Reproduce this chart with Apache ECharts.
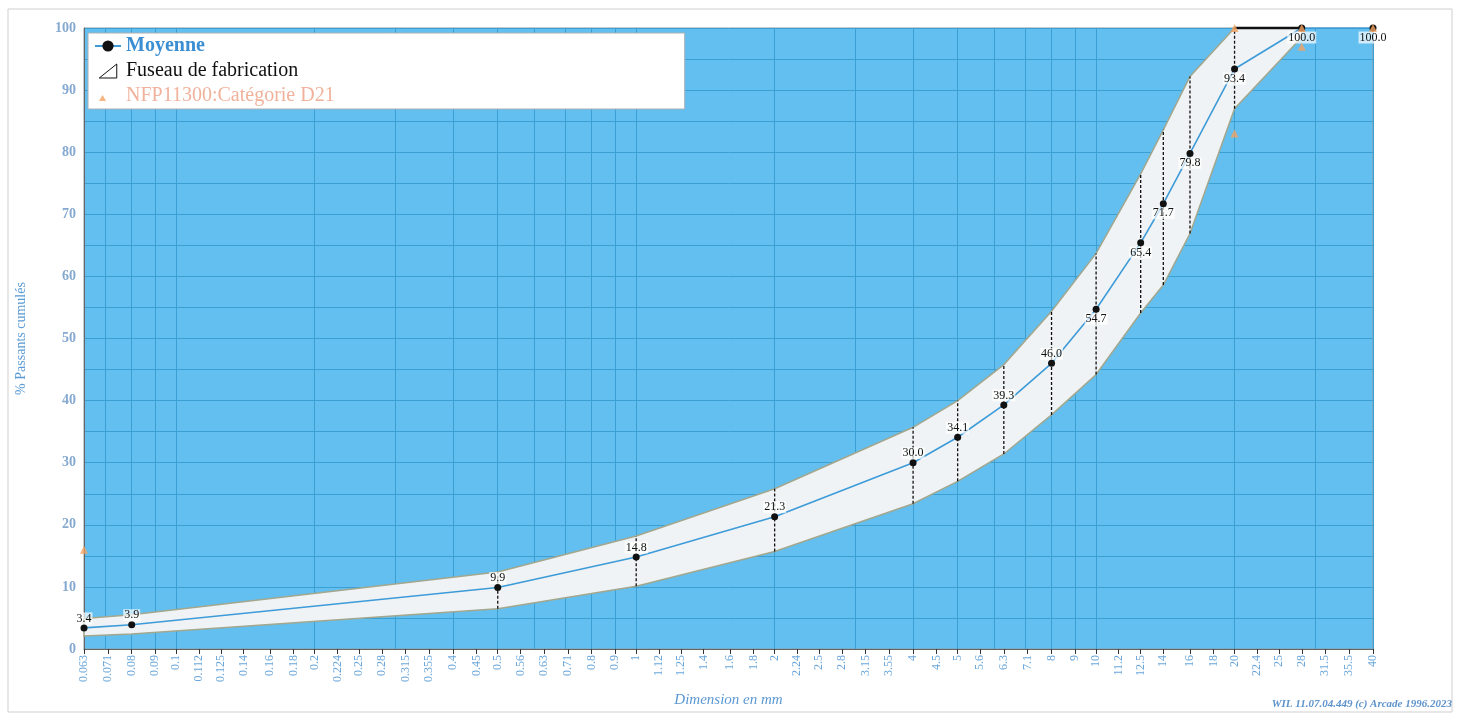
<!DOCTYPE html>
<html><head><meta charset="utf-8">
<script src="https://cdn.jsdelivr.net/npm/echarts@6/dist/echarts.min.js"></script>
<style>html,body{margin:0;padding:0;background:#fff}#c{width:1460px;height:713px}</style>
</head><body><div id="c"></div>
<script>
// ---- data ----
const xTickLabels = ['0.063','0.071','0.08','0.09','0.1','0.112','0.125','0.14','0.16','0.18','0.2','0.224','0.25','0.28','0.315','0.355','0.4','0.45','0.5','0.56','0.63','0.71','0.8','0.9','1','1.12','1.25','1.4','1.6','1.8','2','2.24','2.5','2.8','3.15','3.55','4','4.5','5','5.6','6.3','7.1','8','9','10','11.2','12.5','14','16','18','20','22.4','25','28','31.5','35.5','40'];
const gridLineValues = [0.07,0.08,0.09,0.1,0.2,0.3,0.4,0.5,0.6,0.7,0.8,0.9,1,2,3,4,5,6,7,8,9,10,20,30,40];
const sieves = [0.063, 0.08, 0.5, 1, 2, 4, 5, 6.3, 8, 10, 12.5, 14, 16, 20, 28, 40];
const moyenne = [3.4, 3.9, 9.9, 14.8, 21.3, 30.0, 34.1, 39.3, 46.0, 54.7, 65.4, 71.7, 79.8, 93.4, 100.0, 100.0];
const bandSieves = [0.063, 0.08, 0.5, 1, 2, 4, 5, 6.3, 8, 10, 12.5, 14, 16, 20, 28];
const fuseauMin = [2.1, 2.4, 6.5, 10.1, 15.7, 23.4, 27.0, 31.4, 37.7, 44.2, 54.1, 58.6, 66.9, 87.0, 98.5];
const fuseauMax = [4.9, 5.5, 12.4, 18.2, 25.8, 35.7, 40.0, 45.8, 54.4, 63.7, 76.5, 83.6, 92.2, 100, 100];
const normeX = [0.063, 20, 20, 28, 28, 40];
const normeY = [16, 83, 100, 97, 100, 100];

const SERIF = '"Liberation Serif","DejaVu Serif",serif';
const xTickValues = xTickLabels.map(Number);

function labelFor(v){
  let best = xTickLabels[0], bd = Infinity;
  xTickLabels.forEach(s => { const d = Math.abs(Math.log(+s) - Math.log(v)); if (d < bd){bd = d; best = s;} });
  return best;
}

const chart = echarts.init(document.getElementById('c'));
const bandData = bandSieves.map((x,i)=>[x, fuseauMin[i], fuseauMax[i]]);
const barData = bandSieves.slice(2,14).map((x,i)=>[x, fuseauMin[i+2], fuseauMax[i+2]]);
const GRIDC = '#3AA0D4';

chart.setOption({
  animation:false,
  backgroundColor:'#fff',
  graphic:[
    {type:'rect', shape:{x:8,y:9,width:1444,height:703}, style:{fill:'none', stroke:'#cfcfcf', lineWidth:1}, silent:true, z:-10},
    {type:'text', right:8, bottom:3, style:{text:'WIL 11.07.04.449 (c) Arcade 1996.2023', fill:'#5E93CC', font:'italic bold 11px '+SERIF}}
  ],
  grid:{left:84, right:87, top:28, bottom:60, show:true, backgroundColor:'#62BFF0', borderColor:'#8d9aa3', borderWidth:1},
  legend:{
    orient:'vertical', left:88, top:33, padding:[3,350,3,6], itemGap:5, itemWidth:26, itemHeight:14,
    backgroundColor:'#fff', borderColor:'#aab0b5', borderWidth:1,
    textStyle:{fontFamily:SERIF, fontSize:20},
    data:[
      {name:'Moyenne', textStyle:{color:'#3B8ED2', fontWeight:'bold'}},
      {name:'Fuseau de fabrication', icon:'path://M0,16 L20,0 L20,16 Z', itemStyle:{color:'#fff', borderColor:'#111', borderWidth:1}, textStyle:{color:'#111'}},
      {name:'NFP11300:Catégorie D21', icon:'path://M0,0h0.05v0.05h-0.05Z M26,14h-0.05v-0.05h0.05Z M4,12 L7.5,6 L11,12 Z', textStyle:{color:'#F1B29C'}}
    ]
  },
  xAxis:[{
    type:'log', min:0.063, max:40, position:'bottom',
    name:'Dimension en mm', nameLocation:'middle', nameGap:44,
    nameTextStyle:{fontFamily:SERIF, fontSize:15, fontStyle:'italic', color:'#5B97D2'},
    axisLine:{show:true, lineStyle:{color:'#666'}},
    axisTick:{show:true, customValues:xTickValues, length:5, lineStyle:{color:'#333'}},
    axisLabel:{customValues:xTickValues, rotate:90, fontFamily:SERIF, fontSize:12, color:'#6AA6DA', margin:6,
      formatter:(v)=>labelFor(v)},
    splitLine:{show:false}, minorTick:{show:false}, minorSplitLine:{show:false}
  },{
    type:'log', min:0.063, max:40, position:'bottom',
    axisLine:{show:false}, axisLabel:{show:false},
    axisTick:{show:false, customValues:gridLineValues},
    splitLine:{show:true, lineStyle:{color:GRIDC, width:1}}
  }],
  yAxis:{
    type:'value', min:0, max:100, interval:10,
    name:'% Passants cumulés', nameLocation:'middle', nameGap:56,
    nameTextStyle:{fontFamily:SERIF, fontSize:14, color:'#5B9BD5'},
    axisLine:{show:true, lineStyle:{color:'#666'}},
    axisTick:{show:false},
    axisLabel:{fontFamily:SERIF, fontSize:14, fontWeight:'bold', color:'#86A9D0', margin:8},
    splitLine:{show:true, lineStyle:{color:GRIDC, width:1}},
    minorTick:{show:false, splitNumber:2},
    minorSplitLine:{show:true, lineStyle:{color:GRIDC, width:1}}
  },
  series:[
    {
      name:'Fuseau de fabrication', type:'custom', z:2, itemStyle:{color:'#111'},
      data:bandData,
      renderItem:function(params, api){
        if (params.dataIndex !== 0) return null;
        const up = bandSieves.map((x,i)=>api.coord([x, fuseauMax[i]]));
        const lo = bandSieves.map((x,i)=>api.coord([x, fuseauMin[i]]));
        const poly = up.concat(lo.slice().reverse());
        const topIdx = fuseauMax.map((v,i)=>v>=100?i:-1).filter(i=>i>=0);
        const topPts = topIdx.map(i=>up[i]);
        return {type:'group', children:[
          {type:'polygon', shape:{points:poly}, style:{fill:'#F0F3F5', stroke:'#A2A78E', lineWidth:1.5}},
          {type:'polyline', shape:{points:topPts}, style:{fill:null, stroke:'#111', lineWidth:2.5}}
        ]};
      },
      encode:{x:0, y:[1,2]}
    },
    {
      name:'limites', type:'custom', z:3, silent:true,
      data:barData,
      renderItem:function(params, api){
        const a = api.coord([api.value(0), api.value(1)]);
        const b = api.coord([api.value(0), api.value(2)]);
        return {type:'line', shape:{x1:a[0], y1:a[1], x2:b[0], y2:b[1]}, style:{stroke:'#111', lineWidth:1.3, lineDash:[3,2]}};
      },
      encode:{x:0, y:[1,2]}
    },
    {
      name:'Moyenne', type:'line', z:4,
      data:sieves.map((x,i)=>({value:[x, moyenne[i]], label:{position: moyenne[i] < 50 ? 'top' : 'bottom'}})),
      symbol:'circle', symbolSize:7,
      itemStyle:{color:'#111'},
      lineStyle:{color:'#3C9BD8', width:1.6},
      label:{show:true, distance:0, formatter:(p)=>p.value[1].toFixed(1), fontFamily:SERIF, fontSize:12, color:'#111',
        backgroundColor:'rgba(255,255,255,0.7)', padding:[0,1]}
    },
    {
      name:'NFP11300:Catégorie D21', type:'scatter', z:5, clip:false,
      data:normeX.map((x,i)=>[x, normeY[i]]),
      symbol:'triangle', symbolSize:8, itemStyle:{color:'#F4A262'}
    }
  ]
});
</script></body></html>
